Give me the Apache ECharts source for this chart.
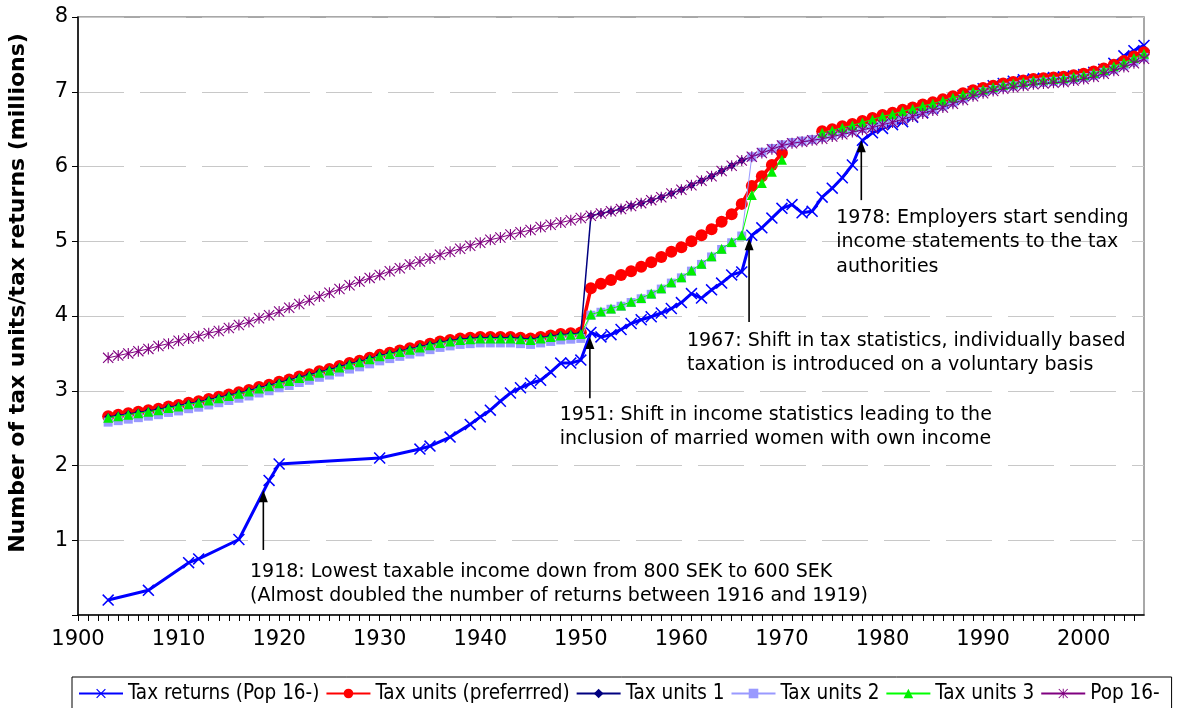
<!DOCTYPE html>
<html><head><meta charset="utf-8">
<script src="https://cdn.jsdelivr.net/npm/echarts@6/dist/echarts.min.js"></script>
<style>html,body{margin:0;padding:0;background:#fff}#c{width:1182px;height:708px}</style>
</head><body><div id="c"></div>
<script>
// ---- DATA ----
const firstYear = 1903, lastYear = 2006;
const years = [];
for (let y = firstYear; y <= lastYear; y++) years.push(y);

const returnYears = [1903,1907,1911,1912,1916,1919,1920,1930,1934,1935,1937,1939,1940,1941,1942,1943,1944,1945,1946,1947,1948,1949,1950,
 1951,1952,1953,1954,1955,1956,1957,1958,1959,1960,1961,1962,1963,1964,1965,1966,1967,1968,1969,1970,1971,1972,1973,1974,1975,1976,1977,1978,1979,1980,
 1981,1982,1983,1984,1985,1986,1987,1988,1989,1990,1991,1992,1993,1994,1995,1996,1997,1998,1999,2000,2001,2002,2003,2004,2005,2006];
const taxReturns = [0.20,0.33,0.70,0.75,1.01,1.80,2.02,2.10,2.22,2.26,2.38,2.55,2.65,2.74,2.86,2.97,3.04,3.10,3.14,3.25,3.37,3.37,3.41,
 3.78,3.72,3.75,3.82,3.90,3.95,3.99,4.04,4.10,4.18,4.30,4.24,4.35,4.44,4.55,4.59,5.08,5.18,5.31,5.44,5.49,5.38,5.40,5.59,5.71,5.85,6.02,6.35,6.45,6.51,
 6.56,6.60,6.66,6.72,6.78,6.85,6.90,6.95,7.00,7.04,7.08,7.11,7.14,7.16,7.17,7.18,7.19,7.20,7.21,7.23,7.26,7.30,7.38,7.48,7.55,7.62];

const taxUnitsPreferred = [
 2.66,2.68,2.70,2.72,2.74,2.76,2.79,2.81,2.84,2.86,
 2.89,2.92,2.95,2.98,3.01,3.05,3.08,3.12,3.15,3.19,
 3.22,3.26,3.29,3.33,3.37,3.40,3.44,3.48,3.51,3.54,
 3.57,3.60,3.63,3.66,3.68,3.70,3.71,3.72,3.72,3.72,
 3.72,3.71,3.70,3.72,3.74,3.76,3.77,3.78,4.37,4.43,
 4.48,4.55,4.60,4.66,4.72,4.79,4.86,4.92,5.00,5.08,
 5.16,5.26,5.36,5.50,5.74,5.87,6.02,6.18,null,null,
 null,6.47,6.50,6.54,6.57,6.61,6.65,6.69,6.72,6.76,
 6.79,6.83,6.86,6.90,6.94,6.98,7.02,7.05,7.08,7.11,
 7.13,7.15,7.17,7.18,7.19,7.20,7.22,7.24,7.27,7.31,
 7.36,7.41,7.47,7.53];

const taxUnits1 = [
 2.65,2.67,2.69,2.71,2.73,2.75,2.78,2.80,2.83,2.85,
 2.88,2.91,2.94,2.97,3.00,3.04,3.07,3.11,3.14,3.18,
 3.21,3.25,3.28,3.32,3.36,3.39,3.43,3.47,3.50,3.53,
 3.56,3.59,3.62,3.65,3.67,3.69,3.70,3.71,3.71,3.71,
 3.71,3.70,3.69,3.71,3.73,3.75,3.76,3.77,5.34,5.37,
 5.40,5.43,5.47,5.51,5.55,5.59,5.64,5.69,5.75,5.81,
 5.87,5.94,6.01,6.08,6.13,6.18,6.23,6.28,6.31,6.33,
 6.35,6.37,6.40,6.43,6.46,6.49,6.52,6.56,6.59,6.63,
 6.67,6.71,6.75,6.79,6.84,6.89,6.94,6.98,7.01,7.04,
 7.06,7.08,7.10,7.11,7.12,7.13,7.15,7.17,7.20,7.24,
 7.28,7.33,7.38,7.44];

const taxUnits2 = [
 2.58,2.60,2.62,2.64,2.66,2.68,2.71,2.73,2.76,2.78,
 2.81,2.84,2.87,2.90,2.93,2.97,3.00,3.04,3.07,3.11,
 3.14,3.18,3.21,3.25,3.29,3.32,3.36,3.40,3.43,3.46,
 3.49,3.52,3.55,3.58,3.60,3.62,3.63,3.64,3.64,3.64,
 3.64,3.63,3.62,3.64,3.66,3.68,3.69,3.70,4.01,4.05,
 4.09,4.13,4.18,4.23,4.29,4.36,4.44,4.51,4.60,4.69,
 4.79,4.89,4.98,5.07,6.13,6.19,6.24,6.29,6.32,6.34,
 6.36,6.39,6.42,6.45,6.48,6.51,6.54,6.58,6.61,6.65,
 6.69,6.73,6.77,6.81,6.86,6.91,6.96,7.00,7.03,7.06,
 7.08,7.10,7.12,7.13,7.14,7.15,7.17,7.19,7.22,7.26,
 7.30,7.35,7.40,7.46];

const taxUnits3 = [
 2.64,2.66,2.68,2.70,2.72,2.74,2.77,2.79,2.82,2.84,
 2.87,2.90,2.93,2.96,2.99,3.03,3.06,3.10,3.13,3.17,
 3.20,3.24,3.27,3.31,3.35,3.38,3.42,3.46,3.49,3.52,
 3.55,3.58,3.61,3.64,3.66,3.68,3.69,3.70,3.70,3.70,
 3.70,3.69,3.68,3.70,3.72,3.74,3.75,3.76,4.02,4.06,
 4.10,4.14,4.19,4.24,4.30,4.37,4.45,4.52,4.61,4.70,
 4.80,4.90,4.99,5.08,5.62,5.78,5.93,6.09,null,null,
 null,6.45,6.48,6.52,6.55,6.59,6.63,6.67,6.70,6.74,
 6.77,6.81,6.84,6.88,6.92,6.96,7.00,7.03,7.06,7.09,
 7.11,7.13,7.15,7.16,7.17,7.18,7.20,7.22,7.25,7.29,
 7.34,7.39,7.45,7.51];

const pop16 = [
 3.44,3.47,3.50,3.53,3.56,3.60,3.63,3.67,3.70,3.73,
 3.77,3.80,3.84,3.88,3.92,3.97,4.01,4.06,4.11,4.16,
 4.21,4.26,4.31,4.36,4.41,4.46,4.51,4.55,4.60,4.64,
 4.69,4.73,4.77,4.82,4.86,4.90,4.94,4.98,5.02,5.05,
 5.09,5.12,5.15,5.19,5.22,5.25,5.28,5.31,5.34,5.37,
 5.40,5.43,5.47,5.51,5.55,5.59,5.64,5.69,5.75,5.81,
 5.87,5.94,6.01,6.08,6.13,6.18,6.23,6.28,6.31,6.33,
 6.35,6.37,6.40,6.43,6.46,6.49,6.52,6.56,6.59,6.63,
 6.67,6.71,6.75,6.79,6.84,6.89,6.94,6.98,7.01,7.04,
 7.06,7.08,7.10,7.11,7.12,7.13,7.15,7.17,7.20,7.24,
 7.28,7.33,7.38,7.44];

const seriesNames = ['Tax returns (Pop 16-)','Tax units (preferrred)','Tax units 1','Tax units 2','Tax units 3','Pop 16-'];

// annotation arrows: [year, fromValue, toValue]
const arrows = [[1918.43,0.87,1.67],[1950.9,2.90,3.72],[1966.73,3.92,5.04],[1977.89,5.55,6.35]];
// annotation texts: anchor [year, value] = left / vertical middle of the text block
const notes = [
 {at:[1917.1,0.415], text:'1918: Lowest taxable income down from 800 SEK to 600 SEK\n(Almost doubled the number of returns between 1916 and 1919)'},
 {at:[1947.9,2.515], text:'1951: Shift in income statistics leading to the\ninclusion of married women with own income'},
 {at:[1960.55,3.505], text:'1967: Shift in tax statistics, individually based\ntaxation is introduced on a voluntary basis'},
 {at:[1975.4,4.983], text:'1978: Employers start sending\nincome statements to the tax\nauthorities'}
];

// ---- CHART ----
const FONT = 'DejaVu Sans';
const xSym = 'path://M0,0.9 L0.9,0 L5,4.1 L9.1,0 L10,0.9 L5.9,5 L10,9.1 L9.1,10 L5,5.9 L0.9,10 L0,9.1 L4.1,5 Z';
const starSym = 'path://M4.5,0 L5.5,0 L5.5,10 L4.5,10 Z M0,0.7 L0.7,0 L10,9.3 L9.3,10 Z M9.3,0 L10,0.7 L0.7,10 L0,9.3 Z';
const pair = (arr) => years.map((y,i) => [y, arr[i]]);

const chart = echarts.init(document.getElementById('c'), null, {renderer:'canvas'});
const option = {
  animation:false,
  backgroundColor:'#fff',
  textStyle:{fontFamily:FONT},
  grid:{left:78, right:38, top:17, bottom:93, show:true, borderColor:'#8c8c8c', borderWidth:1.5, backgroundColor:'transparent'},
  legend:{
    data:seriesNames, left:72, top:677, orient:'horizontal',
    itemWidth:44, itemHeight:12, itemGap:6,
    padding:[6,12,14,6], borderColor:'#000', borderWidth:1,
    textStyle:{fontFamily:'DejaVu Sans Condensed', fontSize:20.5, color:'#000'}
  },
  xAxis:{
    type:'value', min:1900, max:2006, interval:1,
    axisLine:{lineStyle:{color:'#000', width:1.5}},
    axisTick:{show:true, length:6, inside:false, lineStyle:{color:'#000', width:1}},
    axisLabel:{fontFamily:FONT, fontSize:21, color:'#000', margin:14, showMaxLabel:false,
      formatter:(v)=> (v%10===0 ? String(v) : '')},
    splitLine:{show:false}
  },
  yAxis:{
    type:'value', min:0, max:8, interval:1,
    axisLine:{show:true, lineStyle:{color:'#000', width:1.5}},
    axisTick:{show:true, length:6, lineStyle:{color:'#000', width:1}},
    axisLabel:{fontFamily:FONT, fontSize:21, color:'#000', margin:10, formatter:(v)=> (v===0?'':String(v))},
    splitLine:{show:true, lineStyle:{color:'#c8c8c8', width:1.2, type:[46,16]}}
  },
  series:[
    {name:seriesNames[0], type:'line', data:returnYears.map((y,i)=>[y,taxReturns[i]]),
     lineStyle:{color:'#0000ff', width:3}, itemStyle:{color:'#0000ff'},
     symbol:xSym, symbolSize:12, showAllSymbol:true, z:2},
    {name:seriesNames[1], type:'line', data:pair(taxUnitsPreferred), connectNulls:false,
     lineStyle:{color:'#ff0000', width:3.5}, itemStyle:{color:'#ff0000'},
     symbol:'circle', symbolSize:12, showAllSymbol:true, z:3},
    {name:seriesNames[2], type:'line', data:pair(taxUnits1),
     lineStyle:{color:'#000080', width:1.5}, itemStyle:{color:'#000080'},
     symbol:'diamond', symbolSize:8, showAllSymbol:true, z:4},
    {name:seriesNames[3], type:'line', data:pair(taxUnits2),
     lineStyle:{color:'#9999ff', width:1}, itemStyle:{color:'#9999ff'},
     symbol:'rect', symbolSize:9, showAllSymbol:true, z:5},
    {name:seriesNames[4], type:'line', data:pair(taxUnits3), connectNulls:false,
     lineStyle:{color:'#00ff00', width:1}, itemStyle:{color:'#00ee00'},
     symbol:'triangle', symbolSize:10, showAllSymbol:true, z:6},
    {name:seriesNames[5], type:'line', data:pair(pop16),
     lineStyle:{color:'#800080', width:1}, itemStyle:{color:'#800080'},
     symbol:starSym, symbolSize:11, showAllSymbol:true, z:7}
  ]
};
chart.setOption(option);

const g = [];
notes.forEach(n=>{
  const p = chart.convertToPixel({gridIndex:0}, n.at);
  g.push({type:'text', x:p[0], y:p[1], z:100, silent:true,
    style:{text:n.text, fontFamily:FONT, fontSize:19, lineHeight:24.5, fill:'#000', verticalAlign:'middle', align:'left'}});
});
arrows.forEach(a=>{
  const p0 = chart.convertToPixel({gridIndex:0}, [a[0], a[1]]);
  const p1 = chart.convertToPixel({gridIndex:0}, [a[0], a[2]]);
  const headLen = 12, headHalf = 4.5;
  g.push({type:'line', z:100, silent:true, shape:{x1:p0[0], y1:p0[1], x2:p1[0], y2:p1[1]+headLen-1},
    style:{stroke:'#000', lineWidth:1.6}});
  g.push({type:'polygon', z:100, silent:true,
    shape:{points:[[p1[0],p1[1]],[p1[0]-headHalf,p1[1]+headLen],[p1[0]+headHalf,p1[1]+headLen]]},
    style:{fill:'#000'}});
});
g.push({type:'text', x:18, y:293, rotation:Math.PI/2, z:100, silent:true,
  style:{text:'Number of tax units/tax returns (millions)', fontFamily:FONT, fontWeight:'bold', fontSize:22, fill:'#000', align:'center', verticalAlign:'middle'}});
chart.setOption({graphic:g});
</script></body></html>
